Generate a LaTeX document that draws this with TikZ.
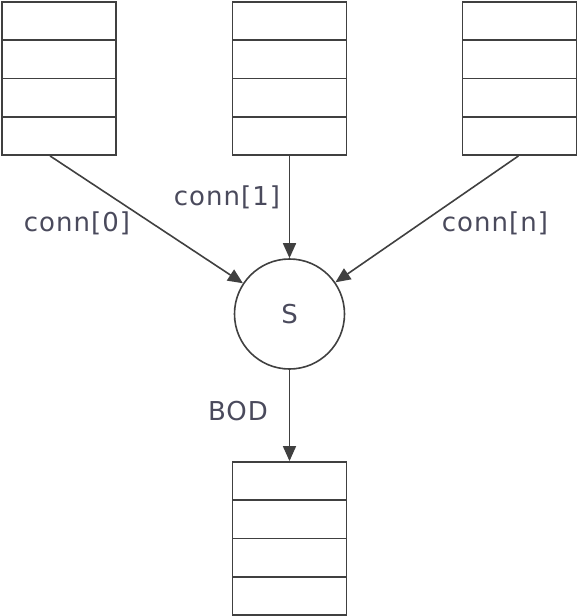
\documentclass[tikz,border=0pt]{standalone}
\usepackage{fontspec}
\setmainfont[LetterSpace=4]{DejaVu Sans}
\usetikzlibrary{arrows.meta,calc}
\definecolor{linec}{HTML}{404040}
\definecolor{textc}{HTML}{4A4A5C}
\begin{document}
\begin{tikzpicture}[x=1pt,y=-1pt,
  stack/.style={draw=linec,line width=1.8pt,minimum width=114pt,minimum height=153pt,inner sep=0pt,
    path picture={
      \foreach \k in {1,2,3}{
        \draw[linec,line width=1.8pt] ($(path picture bounding box.north west)!\k/4!(path picture bounding box.south west)$) --
                                      ($(path picture bounding box.north east)!\k/4!(path picture bounding box.south east)$);
      }}},
  proc/.style={draw=linec,line width=1.6pt,circle,minimum size=110pt,inner sep=0pt,text=textc,font=\fontsize{26}{30}\selectfont},
  lbl/.style={text=textc,font=\fontsize{26}{30}\selectfont,inner sep=0pt},
  conn/.style={draw=linec,line width=1.6pt,-{Triangle[length=15pt,width=13pt]}}]
\useasboundingbox (0,0) rectangle (578,616);
\node[stack] (b1) at (59,78.5) {};
\node[stack] (b2) at (289.5,78.5) {};
\node[stack] (b3) at (519.5,78.5) {};
\node[proc] (s) at (289.5,314) {S};
\node[stack] (b4) at (289.5,538.5) {};
\coordinate (o1) at ([xshift=-9pt]b1.south);
\coordinate (o3) at ([xshift=-1pt]b3.south);
\draw[conn] (o1) -- (s);
\draw[conn] (b2.south) -- (s.north);
\draw[conn] (o3) -- (s);
\draw[conn] (s.south) -- (b4.north);
\node[lbl] (l0) at (77,223) {conn[0]};
\node[lbl] (l1) at (227,197) {conn[1]};
\node[lbl] (ln) at (495,223) {conn[n]};
\node[lbl] (lb) at (238,411) {BOD};
\end{tikzpicture}
\end{document}
